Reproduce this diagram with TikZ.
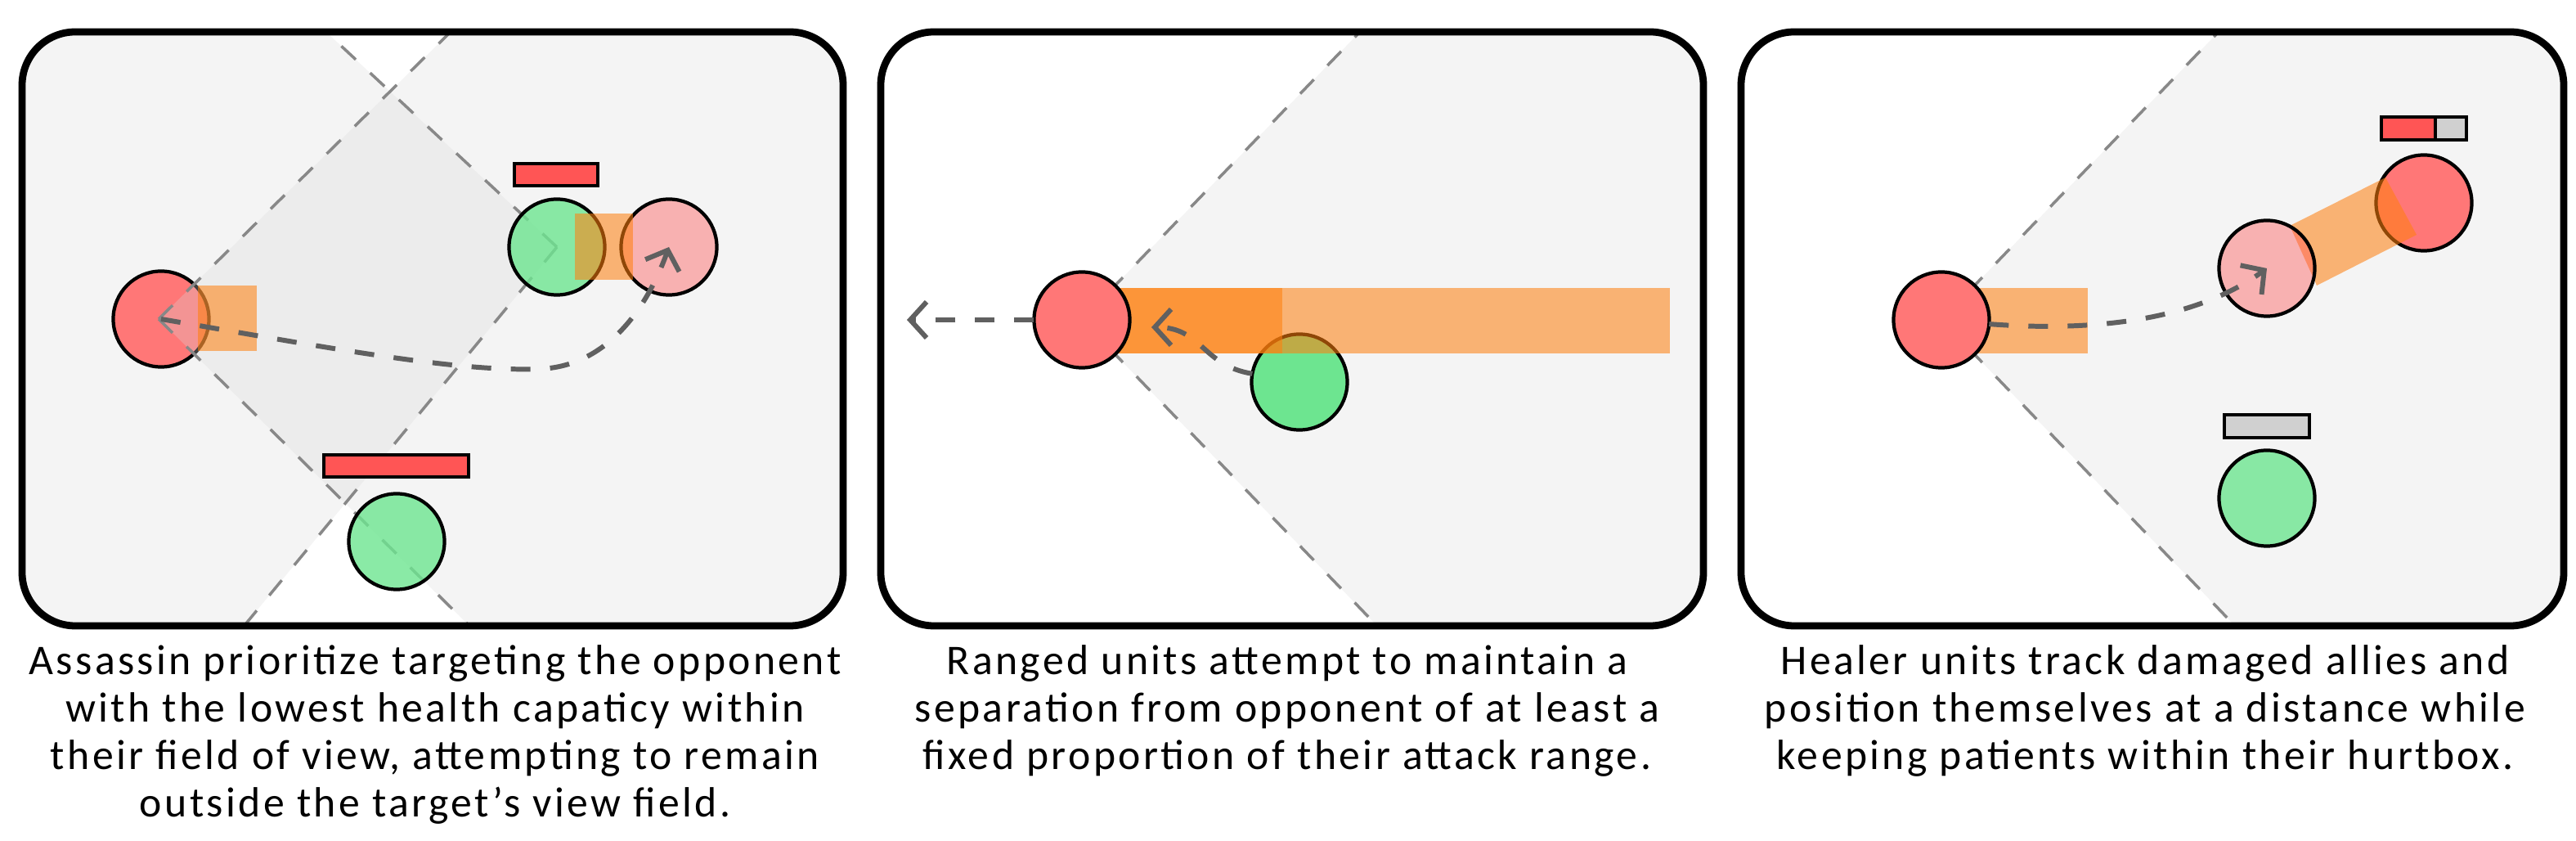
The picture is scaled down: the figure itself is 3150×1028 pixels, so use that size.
\documentclass[tikz,border=0pt]{standalone}
\usepackage{fontspec}
\setmainfont{Carlito}[LetterSpace=6.6]
\usetikzlibrary{arrows.meta}
\definecolor{unitred}{HTML}{FF7777}
\definecolor{hpred}{HTML}{FF5555}
\definecolor{unitgreen}{HTML}{6DE590}
\definecolor{hurtorange}{HTML}{FF7F0E}
\definecolor{conegray}{HTML}{DADADA}
\definecolor{coneline}{HTML}{888888}
\definecolor{pathgray}{HTML}{606060}
\definecolor{emptybar}{HTML}{D0D0D0}
\tikzset{
  panel/.style={draw=black, line width=2.5pt, rounded corners=0.65cm},
  cone/.style={fill=conegray, fill opacity=0.3},
  coneedge/.style={draw=coneline, line width=1pt, dash pattern=on 0.24cm off 0.24cm},
  unit/.style={circle, draw=black, line width=1.2pt, minimum size=1.17cm, inner sep=0pt, outer sep=0pt},
  redunit/.style={unit, fill=unitred},
  ghostunit/.style={unit, fill=hpred, fill opacity=0.42},
  greenunit/.style={unit, fill=unitgreen, fill opacity=0.8},
  hurt/.style={fill=hurtorange, fill opacity=0.56},
  hpbar/.style={draw=black, line width=1.2pt, fill=hpred},
  emptyhp/.style={draw=black, line width=1.2pt, fill=emptybar},
  move/.style={draw=pathgray, line width=1.7pt, dash pattern=on 0.24cm off 0.24cm, -{Straight Barb[length=0.2cm, width=0.44cm]}},
  capline/.style={anchor=base, inner sep=0pt, font=\fontsize{14.7pt}{16.5pt}\selectfont},
}
\begin{document}
\begin{tikzpicture}[x=0.01cm, y=-0.01cm]
\path[use as bounding box] (0,0) rectangle (3150,1028);

% ---------------- Panel 1 ----------------
\begin{scope}
  \clip[rounded corners=0.65cm] (27,39) rectangle (1031,765);
  \fill[cone] (681,302) -- (-156,-478) -- (-459,1682) -- cycle;
  \node[redunit] (r1) at (197,390) {};
  \fill[cone] (194,390) -- (1256,-654) -- (1325,1506) -- cycle;
  \draw[coneedge] (681,302) -- (-156,-478);
  \draw[coneedge] (681,302) -- (-459,1682);
  \draw[coneedge] (194,390) -- (1256,-654);
  \draw[coneedge] (194,390) -- (1325,1506);
\end{scope}
\node[greenunit] (g1) at (681,302) {};
\node[greenunit] (g1b) at (485,662) {};
\node[ghostunit] (p1) at (818,302) {};
\fill[hurt] (242,349) rectangle (314,429);
\fill[hurt] (703,261) rectangle (774,342);
\filldraw[hpbar] (629,200) rectangle (731,227);
\filldraw[hpbar] (396,556) rectangle (573,583);
\draw[move] (r1.center) .. controls (400,425) and (560,455) .. (660,451)
  .. controls (740,448) and (790,380) .. (p1.center);
\draw[panel] (27,39) rectangle (1031,765);

% ---------------- Panel 2 ----------------
\begin{scope}
  \clip[rounded corners=0.65cm] (1077,39) rectangle (2083,765);
  \fill[cone] (1323,391) -- (2334,-656) -- (2397,1504) -- cycle;
  \draw[coneedge] (1323,391) -- (2334,-656);
  \draw[coneedge] (1323,391) -- (2397,1504);
\end{scope}
\node[unit, fill=unitgreen] (g2) at (1589,467) {};
\fill[hurt] (1323,352) rectangle (2042,432);
\fill[hurt] (1323,352) rectangle (1568,432);
\node[redunit] (r2) at (1323,391) {};
\coordinate (flee) at (1109,391);
\coordinate (dodge) at (1408,400);
\draw[move] (r2.west) -- (flee);
\draw[move] (g2.170) .. controls (1470,447) and (1470,400) .. (dodge);
\draw[panel] (1077,39) rectangle (2083,765);

% ---------------- Panel 3 ----------------
\begin{scope}
  \clip[rounded corners=0.65cm] (2129,39) rectangle (3135,765);
  \fill[cone] (2374,391) -- (3382,-656) -- (3442,1504) -- cycle;
  \draw[coneedge] (2374,391) -- (3382,-656);
  \draw[coneedge] (2374,391) -- (3442,1504);
\end{scope}
\fill[hurt] (2374,352) rectangle (2553,432);
\node[redunit] (h3) at (2374,391) {};
\node[redunit] (a3) at (2964,248) {};
\fill[hurt] (2800,276) -- (2917,217) -- (2955,287) -- (2833,349) -- cycle;
\node[ghostunit] (p3) at (2772,328) {};
\node[greenunit] (g3) at (2772,609) {};
\fill[hpred] (2912,143) rectangle (2978,171);
\fill[emptybar] (2978,143) rectangle (3016,171);
\draw[line width=1.2pt] (2978,143) -- (2978,171);
\draw[line width=1.2pt] (2912,143) rectangle (3016,171);
\filldraw[emptyhp] (2720,507) rectangle (2824,535);
\draw[move] (h3.-5) .. controls (2550,405) and (2680,395) .. (p3.center);
\draw[panel] (2129,39) rectangle (3135,765);

% ---------------- Captions ----------------
\node[capline] (t1a) at (532,825) {Assassin prioritize targeting the opponent};
\node[capline] (t1b) at (532,883) {with the lowest health capaticy within};
\node[capline] (t1c) at (532,941) {their field of view, attempting to remain};
\node[capline] (t1d) at (532,999) {outside the target’s view field.};
\node[capline] (t2a) at (1574,825) {Ranged units attempt to maintain a};
\node[capline] (t2b) at (1574,883) {separation from opponent of at least a};
\node[capline] (t2c) at (1574,941) {fixed proportion of their attack range.};
\node[capline] (t3a) at (2623,825) {Healer units track damaged allies and};
\node[capline] (t3b) at (2623,883) {position themselves at a distance while};
\node[capline] (t3c) at (2623,941) {keeping patients within their hurtbox.};
\end{tikzpicture}
\end{document}
